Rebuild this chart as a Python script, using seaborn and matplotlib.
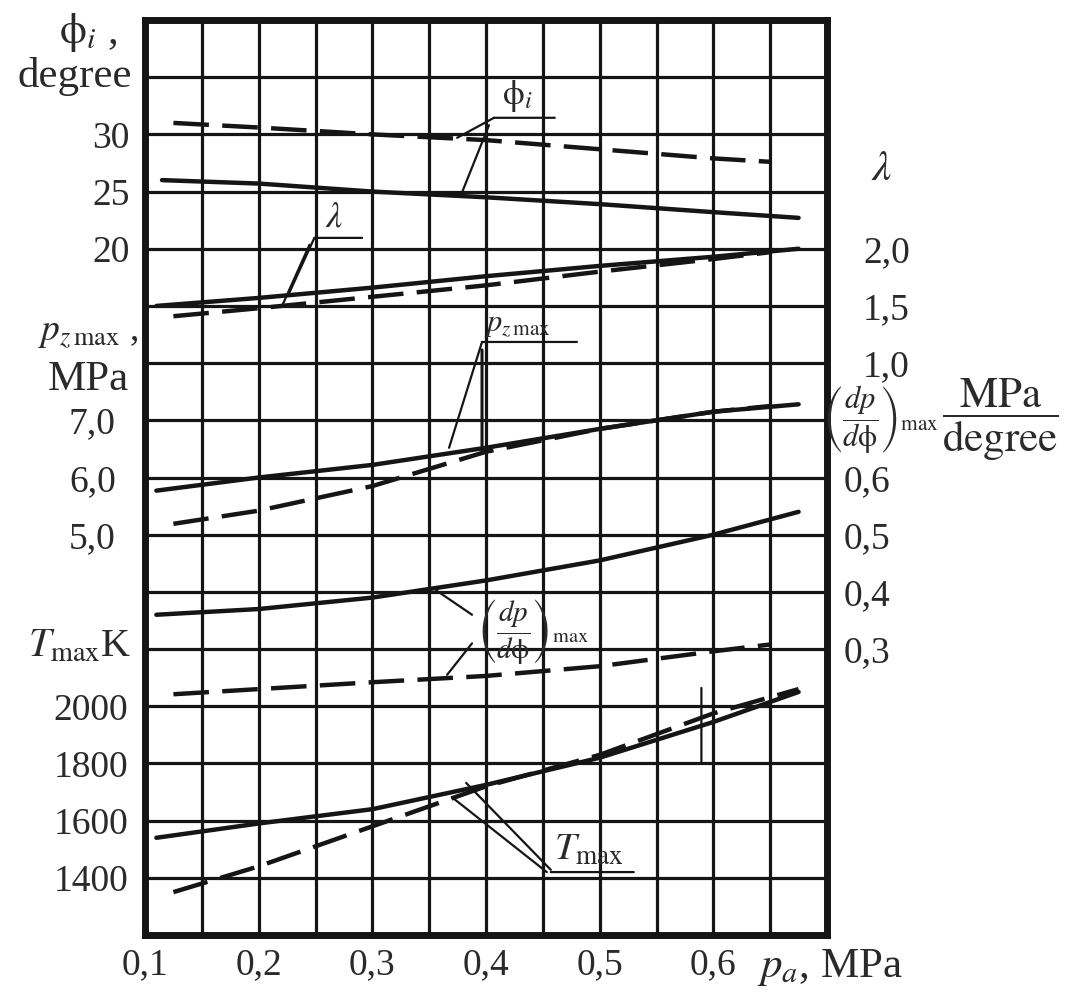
import numpy as np
import pandas as pd
import matplotlib.pyplot as plt
import seaborn as sns

# values, p_a in MPa
# phi_i, degree
phi_x_solid = [0.115, 0.2, 0.3, 0.4, 0.5, 0.6, 0.675]
phi_y_solid = [26.0, 25.7, 25.0, 24.5, 23.9, 23.2, 22.7]
phi_x_dash = [0.125, 0.2, 0.3, 0.4, 0.5, 0.6, 0.65]
phi_y_dash = [31.0, 30.6, 30.0, 29.5, 28.7, 27.9, 27.6]

# lambda
lam_x_solid = [0.11, 0.2, 0.3, 0.4, 0.5, 0.6, 0.675]
lam_y_solid = [1.50, 1.57, 1.66, 1.76, 1.85, 1.93, 2.0]
lam_x_dash = [0.125, 0.2, 0.3, 0.4, 0.5, 0.6, 0.65]
lam_y_dash = [1.41, 1.48, 1.58, 1.68, 1.80, 1.91, 1.97]

# p_z max, MPa
p_x_solid = [0.11, 0.2, 0.3, 0.4, 0.5, 0.6, 0.675]
p_y_solid = [5.77, 6.0, 6.22, 6.52, 6.85, 7.15, 7.28]
p_x_dash = [0.125, 0.2, 0.3, 0.4, 0.5, 0.6, 0.65]
p_y_dash = [5.19, 5.42, 5.85, 6.45, 6.85, 7.15, 7.25]

# (dp/dphi)_max, MPa/degree
dp_x_solid = [0.11, 0.2, 0.3, 0.4, 0.5, 0.6, 0.675]
dp_y_solid = [0.36, 0.37, 0.39, 0.42, 0.455, 0.50, 0.54]
dp_x_dash = [0.125, 0.2, 0.3, 0.4, 0.5, 0.6, 0.65]
dp_y_dash = [0.221, 0.23, 0.242, 0.253, 0.27, 0.296, 0.308]

# T_max, K
T_x_solid = [0.11, 0.2, 0.3, 0.4, 0.5, 0.6, 0.675]
T_y_solid = [1540, 1590, 1640, 1725, 1820, 1945, 2050]
T_x_dash = [0.125, 0.2, 0.3, 0.4, 0.5, 0.6, 0.675]
T_y_dash = [1350, 1440, 1580, 1720, 1830, 1975, 2060]

# tick labels
x_ticks = [0.1, 0.2, 0.3, 0.4, 0.5, 0.6]
x_labels = ['0,1', '0,2', '0,3', '0,4', '0,5', '0,6']
phi_ticks, phi_labels = [20, 25, 30], ['20', '25', '30']
lam_ticks, lam_labels = [1.0, 1.5, 2.0], ['1,0', '1,5', '2,0']
p_ticks, p_labels = [5, 6, 7], ['5,0', '6,0', '7,0']
dp_ticks, dp_labels = [0.3, 0.4, 0.5, 0.6], ['0,3', '0,4', '0,5', '0,6']
T_ticks, T_labels = [1400, 1600, 1800, 2000], ['1400', '1600', '1800', '2000']

sns.set_theme(style='white')
plt.rcParams['font.family'] = ['Liberation Serif', 'DejaVu Serif']
plt.rcParams['mathtext.fontset'] = 'stix'

INK = '#151515'
TXT = '#2a2a2a'

fig = plt.figure(figsize=(10.75, 9.93), dpi=100)
pos = [145 / 1075, 58 / 993, 682 / 1075, 915 / 993]
ax = fig.add_axes(pos)

# grid of 12 x 16 squares
ax.set_xlim(0.1, 0.7)
ax.set_ylim(0, 16)
ax.set_xticks(x_ticks, x_labels)
ax.set_xticks(np.arange(0.15, 0.7, 0.1), minor=True)
ax.set_yticks(range(1, 16))
ax.tick_params(axis='y', left=False, labelleft=False)
ax.tick_params(axis='x', which='both', length=0, pad=9, labelsize=27, labelcolor=TXT)
ax.grid(True, which='both', color=INK, lw=2.3)
for s in ax.spines.values():
    s.set_color(INK)
    s.set_linewidth(5)


def frame(xs, ys, xd, yd):
    return pd.DataFrame({'pa': xs + xd, 'val': ys + yd,
                         'case': ['solid'] * len(xs) + ['dashed'] * len(xd)})


def overlay(ylim, ticks, labels, side, pad):
    a = fig.add_axes(pos, sharex=ax)
    a.patch.set_visible(False)
    for s in a.spines.values():
        s.set_visible(False)
    a.set_ylim(*ylim)
    a.grid(False)
    a.tick_params(axis='x', bottom=False, labelbottom=False)
    if side == 'left':
        a.yaxis.tick_left()
    else:
        a.yaxis.tick_right()
    a.set_yticks(ticks, labels)
    a.tick_params(axis='y', length=0, pad=pad, labelsize=27, labelcolor=TXT)
    return a


series = [
    ((-40, 40), phi_ticks, phi_labels, 'left', 11,
     frame(phi_x_solid, phi_y_solid, phi_x_dash, phi_y_dash)),
    ((-4, 4), lam_ticks, lam_labels, 'right', 26,
     frame(lam_x_solid, lam_y_solid, lam_x_dash, lam_y_dash)),
    ((-2, 14), p_ticks, p_labels, 'left', 21,
     frame(p_x_solid, p_y_solid, p_x_dash, p_y_dash)),
    ((-0.2, 1.4), dp_ticks, dp_labels, 'right', 12,
     frame(dp_x_solid, dp_y_solid, dp_x_dash, dp_y_dash)),
    ((1200, 4400), T_ticks, T_labels, 'left', 12,
     frame(T_x_solid, T_y_solid, T_x_dash, T_y_dash)),
]

for ylim, ticks, labels, side, pad, df in series:
    a = overlay(ylim, ticks, labels, side, pad)
    sns.lineplot(data=df, x='pa', y='val', style='case',
                 dashes={'solid': '', 'dashed': (8, 3)},
                 color=INK, lw=3.2, estimator=None, legend=False, ax=a)
    a.set_xlabel('')
    a.set_ylabel('')
    a.set_xlim(0.1, 0.7)

# leader lines and curve labels (main axes: x in MPa, y in grid rows)
def seg(p0, p1, lw=1.6):
    ax.annotate('', xy=p1, xytext=p0, annotation_clip=False,
                arrowprops=dict(arrowstyle='-', color=INK, lw=lw, shrinkA=0, shrinkB=0))


PHI = r'\mathrm{\phi}'

# phi_i
ax.text(0.414, 14.36, rf'${PHI}_i$', fontsize=25, color=TXT, ha='left', va='bottom')
seg((0.407, 14.29), (0.4605, 14.29))
seg((0.407, 14.29), (0.3746, 13.94))
seg((0.4026, 14.16), (0.379, 12.99))

# lambda
ax.text(0.258, 12.25, r'$\lambda$', fontsize=26, color=TXT, ha='left', va='bottom')
seg((0.249, 12.19), (0.291, 12.19))
seg((0.249, 12.19), (0.2272, 11.24))
seg((0.2447, 12.07), (0.221, 11.02))

# p_z max
ax.text(0.398, 10.42, r'$p_{z\,\max}$', fontsize=22, color=TXT, ha='left', va='bottom')
seg((0.3965, 10.37), (0.48, 10.37))
seg((0.3965, 10.37), (0.3675, 8.52))
seg((0.3965, 10.23), (0.3965, 8.48), lw=2.2)

# (dp/dphi)_max
ax.text(0.392, 5.3, rf'$\left(\dfrac{{dp}}{{d{PHI}}}\right)_{{\max}}$', fontsize=21,
        color=TXT, ha='left', va='center')
seg((0.356, 6.03), (0.3877, 5.6))
seg((0.3877, 5.1), (0.3658, 4.55))

# T_max
ax.text(0.46, 1.15, r'$T_{\max}$', fontsize=28, color=TXT, ha='left', va='bottom')
seg((0.457, 1.10), (0.53, 1.10))
seg((0.457, 1.14), (0.3825, 2.66))
seg((0.4535, 1.10), (0.370, 2.41))

# vertical marker on T_max curves
seg((0.5895, 4.32), (0.5895, 3.03))

# axis captions
fs = 31
fig.text(88 / 1075, 1 - 33 / 993, rf'${PHI}_i$ ,', fontsize=fs, color=TXT, ha='center', va='center')
fig.text(75 / 1075, 1 - 77 / 993, 'degree', fontsize=fs, color=TXT, ha='center', va='center')
fig.text(88 / 1075, 1 - 333 / 993, r'$p_{z\,\max}$ ,', fontsize=fs - 4, color=TXT, ha='center', va='center')
fig.text(88 / 1075, 1 - 380 / 993, 'MPa', fontsize=fs, color=TXT, ha='center', va='center')
fig.text(80 / 1075, 1 - 647 / 993, r'$T_{\max}$K', fontsize=fs - 2, color=TXT, ha='center', va='center')
fig.text(882 / 1075, 1 - 170 / 993, r'$\lambda$', fontsize=fs, color=TXT, ha='center', va='center')
fig.text(881 / 1075, 1 - 420 / 993, rf'$\left(\dfrac{{dp}}{{d{PHI}}}\right)_{{\max}}$', fontsize=22,
         color=TXT, ha='center', va='center')
fig.text(1000 / 1075, 1 - 420 / 993, r'$\dfrac{\mathrm{MPa}}{\mathrm{degree}}$', fontsize=fs,
         color=TXT, ha='center', va='center')
fig.text(757 / 1075, 1 - 967 / 993, r'$p_a$, MPa', fontsize=fs, color=TXT, ha='left', va='center')

fig.savefig('out.png', dpi=100)
